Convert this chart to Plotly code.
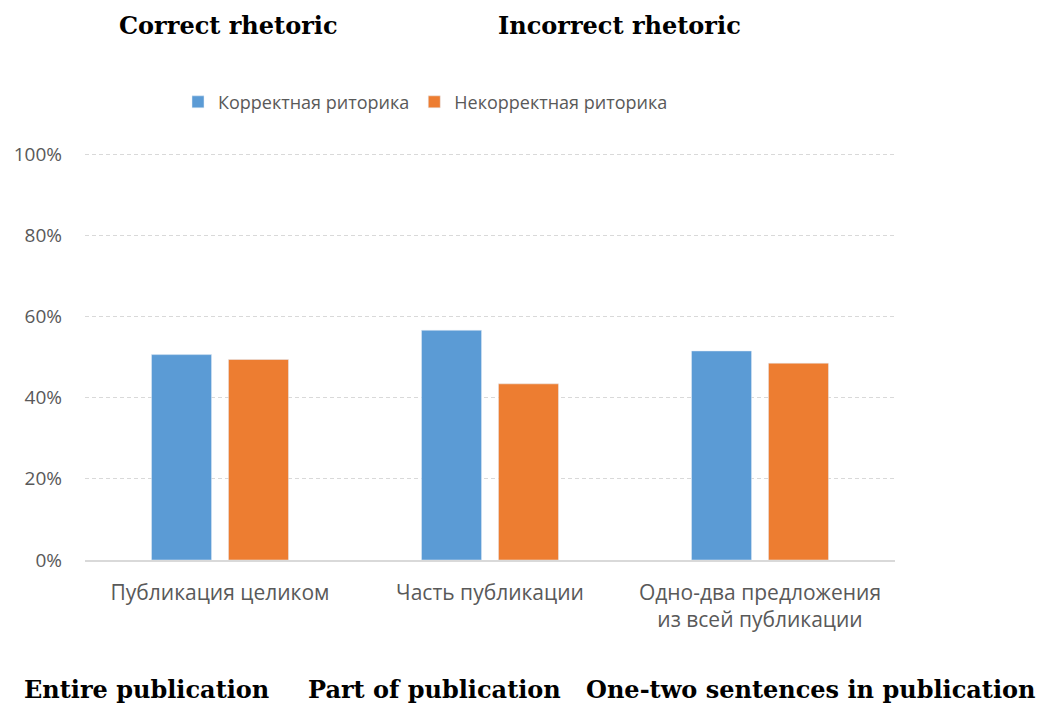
import plotly.graph_objects as go

categories = ["Публикация целиком", "Часть публикации", "Одно-два предложения<br>из всей публикации"]
correct_share = [0.506, 0.566, 0.515]
incorrect_share = [0.494, 0.434, 0.485]
series_names = ["Корректная риторика", "Некорректная риторика"]
y_ticks = [0, 0.2, 0.4, 0.6, 0.8, 1.0]

english_headers = ["Correct rhetoric", "Incorrect rhetoric"]
english_categories = ["Entire publication", "Part of publication", "One-two sentences in publication"]

BLUE = "#5B9BD5"
ORANGE = "#ED7D31"
GRAY_TEXT = "#595959"
GRID = "#D9D9D9"

# plot area in pixels
W, H = 1047, 704
LEFT, RIGHT = 85, 895
Y_MAX = 1.02
TOP_100, BOTTOM = 154, 560
px_per_unit = (BOTTOM - TOP_100) / 1.0
top_px = BOTTOM - Y_MAX * px_per_unit


def px_to_paper(x_px, y_px):
    return ((x_px - LEFT) / (RIGHT - LEFT), (BOTTOM - y_px) / (BOTTOM - top_px))


fig = go.Figure()
fig.add_trace(go.Bar(x=categories, y=correct_share, name=series_names[0],
                     marker=dict(color=BLUE)))
fig.add_trace(go.Bar(x=categories, y=incorrect_share, name=series_names[1],
                     marker=dict(color=ORANGE)))

leg_x, leg_y = px_to_paper(178, 102)
fig.update_layout(
    width=W, height=H,
    margin=dict(l=LEFT, r=W - RIGHT, t=top_px, b=H - BOTTOM),
    paper_bgcolor="white", plot_bgcolor="white",
    barmode="group", bargap=0.43, bargroupgap=0.22,
    font=dict(family="Open Sans", size=19, color=GRAY_TEXT),
    legend=dict(orientation="h", x=leg_x, xanchor="left", y=leg_y, yanchor="middle",
                font=dict(size=18, color=GRAY_TEXT), itemwidth=30,
                bgcolor="rgba(0,0,0,0)"),
    showlegend=True,
)

fig.update_yaxes(range=[0, Y_MAX], tickvals=y_ticks, tickformat=".0%",
                 showgrid=True, gridcolor=GRID, griddash="4px,3px", gridwidth=1,
                 zeroline=False, showline=False, ticks="",
                 tickfont=dict(size=19, color=GRAY_TEXT), ticklabelstandoff=22)
fig.update_xaxes(showline=True, linecolor=GRID, linewidth=1.5, ticks="",
                 showgrid=False, tickfont=dict(size=21, color=GRAY_TEXT),
                 ticklabelstandoff=13)

serif_bold = dict(family="DejaVu Serif", size=24, color="black")
for text, xc in zip(english_headers, [228, 619]):
    ax, ay = px_to_paper(xc, 25)
    fig.add_annotation(text=f"<b>{text}</b>", xref="paper", yref="paper",
                       x=ax, y=ay, xanchor="center", yanchor="middle",
                       showarrow=False, font=serif_bold)
for text, xc in zip(english_categories, [146, 434, 810]):
    ax, ay = px_to_paper(xc, 690)
    fig.add_annotation(text=f"<b>{text}</b>", xref="paper", yref="paper",
                       x=ax, y=ay, xanchor="center", yanchor="middle",
                       showarrow=False, font=serif_bold)

fig.write_html("out.html")
